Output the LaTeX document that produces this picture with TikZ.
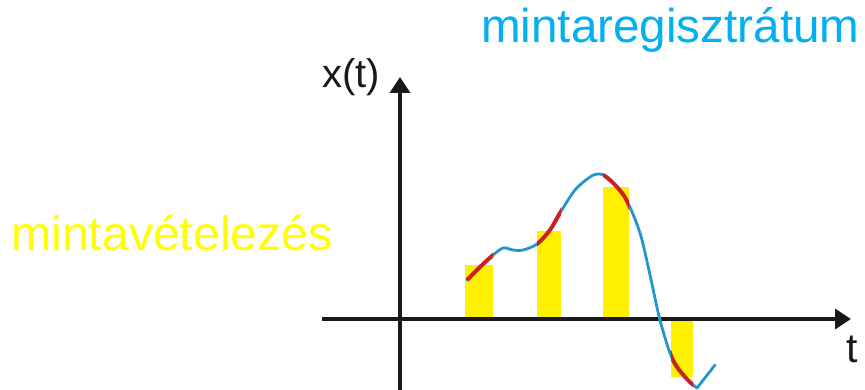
\documentclass[tikz,border=0pt]{standalone}
\usepackage{fontspec}
\setmainfont{Liberation Sans}
\usetikzlibrary{arrows.meta}
\definecolor{txtblue}{RGB}{0,176,240}
\definecolor{txtyellow}{RGB}{255,255,0}
\definecolor{baryellow}{RGB}{255,240,0}
\definecolor{curveblue}{RGB}{35,150,205}
\definecolor{curvered}{RGB}{200,35,35}
\definecolor{axisblack}{RGB}{25,25,25}
\tikzset{
  axisline/.style={line width=3.6pt, draw=axisblack, -{Triangle[length=16pt,width=20pt]}},
  samplebar/.style={fill=baryellow, draw=none},
  curveline/.style={line width=2.8pt, draw=curveblue, line join=round, line cap=round},
  redline/.style={line width=4pt, draw=curvered, line join=round},
  bigtext/.style={inner sep=0pt, anchor=base west},
  axlabel/.style={inner sep=0pt, anchor=base west, text=axisblack}
}
\newcommand{\thecurve}{plot[smooth, tension=0.55] coordinates {(467,280) (480,267) (492,256) (503,248) (513,250) (523,250) (537,244) (550,230) (560,213) (575,190) (590,177) (598,174) (605,176) (617,187) (627,201) (640,233) (650,275) (660,320) (672,358) (685,377) (697,388)} -- (715,365)}
\begin{document}
\begin{tikzpicture}[x=1pt,y=-1pt]
\useasboundingbox (0,0) rectangle (865,390);
% bars
\path[samplebar] (465,320) rectangle (493,265);
\path[samplebar] (537,320) rectangle (561,231);
\path[samplebar] (603,320) rectangle (629,187);
\path[samplebar] (671,320) rectangle (693,377);
% axes
\coordinate (xstart) at (322,319);
\coordinate (xend) at (851,319);
\coordinate (ystart) at (400,392);
\coordinate (yend) at (400,77);
\draw[axisline] (xstart) -- (xend);
\draw[axisline] (ystart) -- (yend);
% curve
\draw[curveline] \thecurve;
\foreach \a/\b in {465/493, 537/561, 603/629, 671/693}{
  \begin{scope}
    \clip (\a,0) rectangle (\b,390);
    \draw[redline] \thecurve;
  \end{scope}
}
% labels
\node[axlabel, font=\fontsize{40}{43}\selectfont] (xlab) at (322,88) {x(t)};
\node[axlabel, font=\fontsize{41}{44}\selectfont] (tlab) at (846,362) {t};
\node[bigtext, text=txtblue, font=\fontsize{47.6}{50}\selectfont] (reg) at (481,43) {mintaregisztrátum};
\node[bigtext, text=txtyellow, font=\fontsize{48.2}{50}\selectfont] (samp) at (11,251) {mintavételezés};
\end{tikzpicture}
\end{document}
